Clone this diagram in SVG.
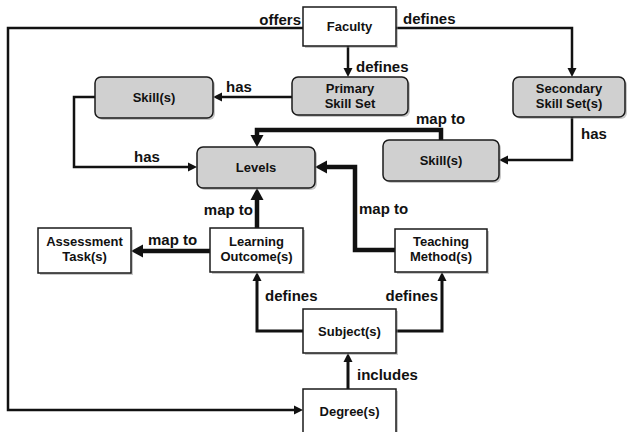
<svg xmlns="http://www.w3.org/2000/svg" width="629" height="432" viewBox="0 0 629 432">
<style>
.box{fill:#fff;stroke:#1a1a1a;stroke-width:1.5}
.gbox{fill:#d0d0d0;stroke:#1a1a1a;stroke-width:1.5}
.sh{fill:#888;opacity:.45}
.nt{font-family:"Liberation Sans",Arial,sans-serif;font-size:13px;font-weight:bold;fill:#111;text-anchor:middle}
.lb{font-family:"Liberation Sans",Arial,sans-serif;font-size:15px;font-weight:bold;fill:#111}
.c{fill:none;stroke:#111;stroke-width:2.5;marker-end:url(#a)}
.ct{fill:none;stroke:#111;stroke-width:4.5;marker-end:url(#at)}
</style>
<defs>
<marker id="a" markerUnits="userSpaceOnUse" markerWidth="10" markerHeight="10" refX="0" refY="5" orient="auto" overflow="visible"><path d="M0,0.5 L9,5 L0,9.5 z" fill="#111"/></marker>
<marker id="at" markerUnits="userSpaceOnUse" markerWidth="13" markerHeight="13" refX="0" refY="6.5" orient="auto" overflow="visible"><path d="M0,0 L12,6.5 L0,13 z" fill="#111"/></marker>
</defs>
<g id="connectors">
<path class="c" d="M303,28 H8 V410 H294"/>
<path class="c" d="M396,28 H572 V68"/>
<path class="c" d="M348,46 V68"/>
<path class="c" d="M292,97 H222"/>
<path class="c" d="M95,97 H74 V167 H188"/>
<path class="c" d="M572,117 V160 H508"/>
<path class="ct" d="M441,140 V130 H257 V135"/>
<path class="ct" d="M395,250 H355 V167 H327"/>
<path class="ct" d="M257,228 V200"/>
<path class="ct" d="M210,251 H143"/>
<path class="c" style="stroke-width:3" d="M303,331 H257 V281"/>
<path class="c" style="stroke-width:3" d="M396,331 H442 V281"/>
<path class="c" style="stroke-width:3" d="M348,389 V362"/>
</g>
<g id="labels">
<text class="lb" x="301" y="25" text-anchor="end">offers</text>
<text class="lb" x="403" y="24">defines</text>
<text class="lb" x="356" y="72">defines</text>
<text class="lb" x="226" y="92">has</text>
<text class="lb" x="134" y="162">has</text>
<text class="lb" x="416" y="124">map to</text>
<text class="lb" x="581" y="139">has</text>
<text class="lb" x="253" y="215" text-anchor="end">map to</text>
<text class="lb" x="359" y="214">map to</text>
<text class="lb" x="148" y="245">map to</text>
<text class="lb" x="265" y="301">defines</text>
<text class="lb" x="438" y="301" text-anchor="end">defines</text>
<text class="lb" x="357" y="380">includes</text>
</g>
<g id="faculty"><rect class="sh" x="305" y="9" width="93" height="39"/><rect class="box" x="303" y="7" width="93" height="39"/><text class="nt" x="349.5" y="31">Faculty</text></g>
<g id="primary-skill-set"><rect class="sh" x="294" y="79" width="116" height="38" rx="6"/><rect class="gbox" x="292" y="77" width="116" height="38" rx="6"/><text class="nt" x="350" y="93">Primary</text><text class="nt" x="350" y="108">Skill Set</text></g>
<g id="skills-left"><rect class="sh" x="97" y="79" width="118" height="41" rx="6"/><rect class="gbox" x="95" y="77" width="118" height="41" rx="6"/><text class="nt" x="154" y="102">Skill(s)</text></g>
<g id="secondary-skill-sets"><rect class="sh" x="515" y="79" width="112" height="40" rx="6"/><rect class="gbox" x="513" y="77" width="112" height="40" rx="6"/><text class="nt" x="569" y="93">Secondary</text><text class="nt" x="569" y="108">Skill Set(s)</text></g>
<g id="levels"><rect class="sh" x="199" y="149" width="118" height="41" rx="6"/><rect class="gbox" x="197" y="147" width="118" height="41" rx="6"/><text class="nt" x="256" y="172">Levels</text></g>
<g id="skills-right"><rect class="sh" x="385" y="142" width="116" height="41" rx="6"/><rect class="gbox" x="383" y="140" width="116" height="41" rx="6"/><text class="nt" x="441" y="165">Skill(s)</text></g>
<g id="assessment-tasks"><rect class="sh" x="40" y="230" width="93" height="45"/><rect class="box" x="38" y="228" width="93" height="45"/><text class="nt" x="84.5" y="246">Assessment</text><text class="nt" x="84.5" y="261">Task(s)</text></g>
<g id="learning-outcomes"><rect class="sh" x="212" y="230" width="93" height="44"/><rect class="box" x="210" y="228" width="93" height="44"/><text class="nt" x="256.5" y="245.5">Learning</text><text class="nt" x="256.5" y="260.5">Outcome(s)</text></g>
<g id="teaching-methods"><rect class="sh" x="397" y="231" width="92" height="43"/><rect class="box" x="395" y="229" width="92" height="43"/><text class="nt" x="441" y="246">Teaching</text><text class="nt" x="441" y="261">Method(s)</text></g>
<g id="subjects"><rect class="sh" x="305" y="311" width="93" height="44"/><rect class="box" x="303" y="309" width="93" height="44"/><text class="nt" x="349.5" y="335.5">Subject(s)</text></g>
<g id="degrees"><rect class="sh" x="305" y="391" width="93" height="44"/><rect class="box" x="303" y="389" width="93" height="44"/><text class="nt" x="349.5" y="415.5">Degree(s)</text></g>
</svg>
